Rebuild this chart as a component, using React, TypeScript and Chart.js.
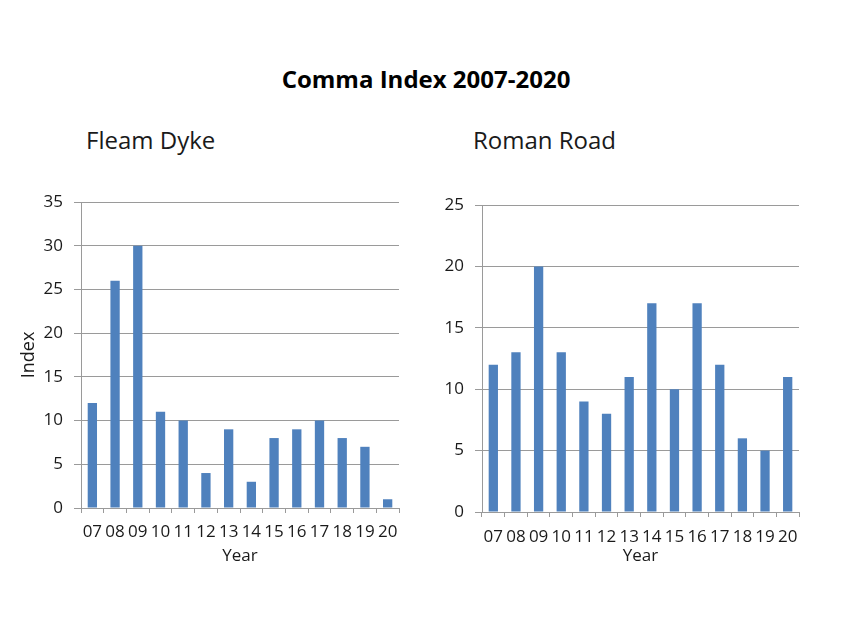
import React, { useEffect, useRef } from "react";
import { Chart, registerables } from "chart.js";

Chart.register(...registerables);

const years = ["07", "08", "09", "10", "11", "12", "13", "14", "15", "16", "17", "18", "19", "20"];
const fleamDyke = [12, 26, 30, 11, 10, 4, 9, 3, 8, 9, 10, 8, 7, 1];
const romanRoad = [12, 13, 20, 13, 9, 8, 11, 17, 10, 17, 12, 6, 5, 11];
const mainTitle = "Comma Index 2007-2020";
const leftTitle = "Fleam Dyke";
const rightTitle = "Roman Road";

const FONT = "'Open Sans', 'DejaVu Sans', sans-serif";
const BAR = "#4F81BD";
const GRID = "#9a9a9a";
const TEXT = "#1a1a1a";

type PanelProps = {
  values: number[];
  max: number;
  yTitle?: string;
  yWidth: number;
  xHeight: number;
  pad: { top: number; right: number; bottom: number; left: number };
  xLabelPad: number;
};

function Panel({ values, max, yTitle, yWidth, xHeight, pad, xLabelPad }: PanelProps) {
  const ref = useRef<HTMLCanvasElement | null>(null);
  useEffect(() => {
    if (!ref.current) return;
    const chart = new Chart(ref.current, {
      type: "bar",
      data: {
        labels: years,
        datasets: [
          {
            data: values,
            backgroundColor: BAR,
            borderWidth: 0,
            barPercentage: 0.41,
            categoryPercentage: 1,
          },
        ],
      },
      options: {
        animation: false,
        responsive: false,
        maintainAspectRatio: false,
        layout: { padding: pad },
        plugins: { legend: { display: false }, tooltip: { enabled: false }, title: { display: false } },
        scales: {
          x: {
            offset: true,
            grid: {
              offset: true,
              drawOnChartArea: false,
              drawTicks: true,
              tickLength: 5,
              color: GRID,
              lineWidth: 1,
            },
            border: { display: true, color: GRID, width: 1 },
            ticks: {
              color: TEXT,
              font: { family: FONT, size: 17 },
              padding: xLabelPad,
              maxRotation: 0,
              autoSkip: false,
            },
            title: {
              display: true,
              text: "Year",
              color: TEXT,
              font: { family: FONT, size: 17 },
              padding: { top: 0, bottom: 2 },
            },
            afterFit: (s: any) => {
              s.height = xHeight;
            },
          },
          y: {
            min: 0,
            max,
            ticks: {
              stepSize: 5,
              color: TEXT,
              font: { family: FONT, size: 17 },
              padding: 11,
            },
            grid: {
              color: GRID,
              lineWidth: 1,
              drawTicks: true,
              tickLength: 7,
            },
            border: { display: true, color: GRID, width: 1 },
            title: {
              display: !!yTitle,
              text: yTitle || "",
              color: TEXT,
              font: { family: FONT, size: 18 },
              padding: { top: 18, bottom: 0 },
            },
            afterFit: (s: any) => {
              s.width = yWidth;
            },
          },
        },
      },
    });
    return () => chart.destroy();
  }, []);
  return <canvas ref={ref} width={420} height={400} style={{ width: 420, height: 400, display: "block" }} />;
}

export default function App() {
  return (
    <div style={{ position: "absolute", left: 0, top: 0, width: 848, height: 636, background: "#fff", overflow: "hidden" }}>
      <div
        style={{
          position: "absolute",
          left: 2,
          width: 848,
          top: 67,
          textAlign: "center",
          fontFamily: FONT,
          fontWeight: 700,
          fontSize: 24,
          lineHeight: "24px",
          color: "#000",
          whiteSpace: "nowrap",
        }}
      >
        {mainTitle}
      </div>
      <div
        style={{
          position: "absolute",
          left: 86,
          top: 128,
          fontFamily: FONT,
          fontSize: 24,
          lineHeight: "24px",
          color: TEXT,
          whiteSpace: "nowrap",
        }}
      >
        {leftTitle}
      </div>
      <div
        style={{
          position: "absolute",
          left: 473,
          top: 128,
          fontFamily: FONT,
          fontSize: 24,
          lineHeight: "24px",
          color: TEXT,
          whiteSpace: "nowrap",
        }}
      >
        {rightTitle}
      </div>
      <div style={{ position: "absolute", left: 0, top: 180 }}>
        <Panel
          values={fleamDyke}
          max={35}
          yTitle="Index"
          yWidth={81}
          xHeight={60}
          pad={{ top: 22, right: 21, bottom: 12, left: 0 }}
          xLabelPad={9}
        />
      </div>
      <div style={{ position: "absolute", left: 420, top: 180 }}>
        <Panel
          values={romanRoad}
          max={25}
          yWidth={62}
          xHeight={56}
          pad={{ top: 25, right: 41, bottom: 12, left: 0 }}
          xLabelPad={10}
        />
      </div>
    </div>
  );
}
